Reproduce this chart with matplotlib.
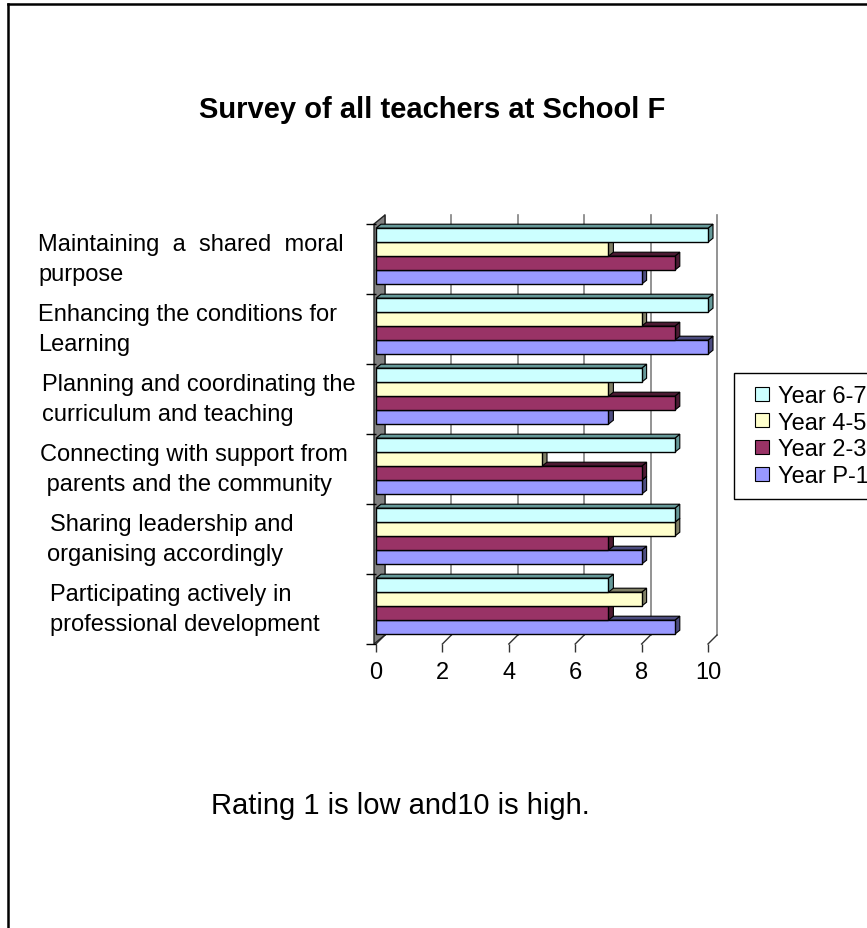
import matplotlib
matplotlib.use('Agg')
import matplotlib.pyplot as plt
from matplotlib.patches import Polygon
from matplotlib.lines import Line2D
from matplotlib import transforms

plt.rcParams['font.family'] = ['Liberation Sans', 'DejaVu Sans']

# categories listed bottom -> top (matplotlib y grows upward)
categories = [
    ['Participating actively in', 'professional development'],
    ['Sharing leadership and', 'organising accordingly'],
    ['Connecting with support from', ' parents and the community'],
    ['Planning and coordinating the', 'curriculum and teaching'],
    ['Enhancing the conditions for', 'Learning'],
    ['Maintaining  a  shared  moral', 'purpose'],
]
series_names = ['Year P-1', 'Year 2-3', 'Year 4-5', 'Year 6-7']
year_p1 = [9, 8, 8, 7, 10, 8]
year_23 = [7, 7, 8, 9, 9, 9]
year_45 = [8, 9, 5, 7, 8, 7]
year_67 = [7, 9, 9, 8, 10, 10]
x_ticks = [0, 2, 4, 6, 8, 10]

series = [year_p1, year_23, year_45, year_67]
face_colors = ['#9999FF', '#993366', '#FFFFCC', '#CCFFFF']
side_colors = ['#4D4D80', '#4D1A33', '#808066', '#669999']

W, H = 867, 929
fig = plt.figure(figsize=(W / 100, H / 100), dpi=100, facecolor='white')

# front plane of the pseudo-3D chart, in pixels
x0, x1, ytop, ybot = 376, 708, 225, 645
ax = fig.add_axes([x0 / W, 1 - ybot / H, (x1 - x0) / W, (ybot - ytop) / H])
ax.set_xlim(0, 10)
ax.set_ylim(0, len(categories))
for s in ax.spines.values():
    s.set_visible(False)
ax.patch.set_visible(False)

# depth offsets (data units)
px_x = 10 / (x1 - x0)
px_y = len(categories) / (ybot - ytop)
wall_dx, wall_dy = 9 * px_x, 9 * px_y
bar_dx, bar_dy = 5 * px_x, 4 * px_y
n = len(categories)

# back wall gridlines and floor diagonals
for v in x_ticks:
    ax.plot([v + wall_dx, v + wall_dx], [wall_dy, n + wall_dy],
            color='#808080', lw=1.2, zorder=0.5, clip_on=False)
    ax.plot([v, v + wall_dx], [0, wall_dy], color='#333333', lw=1, zorder=0.5, clip_on=False)

# left side wall
wl = -2 * px_x
ax.add_patch(Polygon([(wl, 0), (wl, n), (wall_dx, n + wall_dy), (wall_dx, wall_dy)],
                     closed=True, facecolor='#808080', edgecolor='#222222', lw=1,
                     zorder=1, clip_on=False))

bar_h = 0.2
base = 0.14
for k, vals in enumerate(series):
    z = 2 + k
    ys = [c + base + k * bar_h for c in range(n)]
    for y, v in zip(ys, vals):
        # right side face
        ax.add_patch(Polygon([(v, y), (v + bar_dx, y + bar_dy), (v + bar_dx, y + bar_h + bar_dy),
                              (v, y + bar_h)], closed=True, facecolor=side_colors[k],
                             edgecolor='black', lw=0.8, zorder=z, clip_on=False))
        # top face
        ax.add_patch(Polygon([(0, y + bar_h), (v, y + bar_h), (v + bar_dx, y + bar_h + bar_dy),
                              (bar_dx, y + bar_h + bar_dy)], closed=True, facecolor=side_colors[k],
                             edgecolor='black', lw=0.8, zorder=z, clip_on=False))
    ax.barh(ys, vals, height=bar_h, left=0, align='edge', color=face_colors[k],
            edgecolor='black', lw=1, zorder=z + 0.5, clip_on=False)

ax.set_xticks(x_ticks)
ax.set_xticklabels([str(t) for t in x_ticks], fontsize=17)
ax.tick_params(axis='x', direction='out', length=6, width=1, color='#333333', pad=6)
ax.set_yticks(range(n + 1))
ax.set_yticklabels([])
ax.tick_params(axis='y', direction='out', length=7, width=1, color='black')

# category labels
trans = transforms.blended_transform_factory(fig.transFigure, ax.transData)
label_x = [50, 50, 40, 42, 38, 38]
label_x2 = [50, 47, 40, 42, 38, 38]
for c, (lines, lx, lx2) in enumerate(zip(categories, label_x, label_x2)):
    yc = c + 0.5
    ax.text(lx / W, yc + 0.22, lines[0], transform=trans, fontsize=17, ha='left', va='center')
    ax.text(lx2 / W, yc - 0.22, lines[1], transform=trans, fontsize=17, ha='left', va='center')

# legend (top entry first)
handles = [Line2D([], [], ls='none', marker='s', markersize=10, markerfacecolor=face_colors[k],
                  markeredgecolor='black', markeredgewidth=0.8) for k in range(3, -1, -1)]
labels = [series_names[k] for k in range(3, -1, -1)]
fig.legend(handles, labels, loc='upper left', bbox_to_anchor=(734 / W, 1 - 374 / H),
           fontsize=17, frameon=True, fancybox=False, edgecolor='black', framealpha=1,
           handlelength=1.36, handletextpad=0.0, labelspacing=0.2,
           borderpad=0.5, borderaxespad=0)

fig.text(432 / W, 1 - 110 / H, 'Survey of all teachers at School F', fontsize=21,
         fontweight='bold', ha='center', va='center')
fig.text(400 / W, 1 - 806 / H, 'Rating 1 is low and10 is high.', fontsize=21,
         ha='center', va='center')

# outer frame (left and top edges visible)
fig.add_artist(Line2D([8 / W, 8 / W], [0, 1 - 5 / H], color='black', lw=1.8))
fig.add_artist(Line2D([8 / W, 1], [1 - 5 / H, 1 - 5 / H], color='black', lw=1.8))

fig.savefig('out.png', dpi=100, facecolor='white')
